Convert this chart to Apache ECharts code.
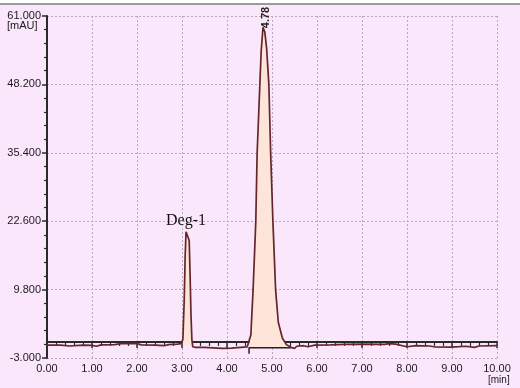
<!DOCTYPE html>
<html><head><meta charset="utf-8">
<script src="https://cdn.jsdelivr.net/npm/echarts@6/dist/echarts.min.js"></script>
<style>html,body{margin:0;padding:0;background:#fbe7fb;}#c{width:520px;height:388px;}</style>
</head><body><div id="c"></div>
<script>
// retention time (min) and detector signal (mAU)
const time   = [0.00,0.30,0.50,0.80,1.00,1.10,1.20,1.50,1.65,2.00,2.10,2.40,2.60,2.70,2.90,2.98,3.02,3.05,3.07,3.09,3.13,3.16,3.18,3.20,3.22,3.24,3.30,3.50,3.70,3.90,4.10,4.30,4.45,4.49,4.53,4.58,4.64,4.67,4.73,4.76,4.80,4.84,4.88,4.93,4.97,5.02,5.08,5.14,5.23,5.32,5.42,5.50,5.55,5.70,5.80,5.95,6.30,6.60,7.00,7.50,7.60,7.75,7.90,8.00,8.20,8.50,8.60,9.00,9.30,9.50,9.60,10.00];
const signal = [-0.60,-0.60,-0.75,-0.60,-0.65,-0.80,-0.55,-0.50,-0.30,-0.30,-0.55,-0.60,-0.70,-0.50,-0.40,-0.30,0.50,8.0,16.0,20.6,20.3,19.0,12.5,5.0,0.4,-0.9,-1.0,-1.0,-1.1,-1.2,-1.15,-1.0,-0.9,-0.6,1.3,9.8,22.6,35.4,48.2,54.5,58.9,58.0,55.0,48.2,35.4,22.6,9.8,3.7,0.75,-0.5,-1.0,-1.2,-0.8,-0.7,-0.9,-0.6,-0.55,-0.45,-0.4,-0.45,-0.3,-0.4,-0.7,-0.9,-0.7,-0.75,-0.9,-0.95,-0.8,-1.0,-0.75,-0.7];
// peaks: name, apex time, apex value, integration window and baseline level
const peakNames    = ['Deg-1', '4.78'];
const peakTimes    = [3.09, 4.80];
const peakValues   = [20.6, 58.9];
const peakStart    = [3.00, 4.49];
const peakEnd      = [3.25, 5.42];
const peakBase     = [-0.6, -1.1];
// axis ticks
const yTicks = [-3.0, 9.8, 22.6, 35.4, 48.2, 61.0];
const xTicks = [0,1,2,3,4,5,6,7,8,9,10];

const pairs = time.map((t,i)=>[t, signal[i]]);
const fillSeries = peakStart.map((s,k)=>({
  type:'line', data: pairs.filter(p=>p[0]>=s && p[0]<=peakEnd[k]),
  symbol:'none', lineStyle:{width:0}, silent:true, z:1,
  areaStyle:{color:'#fde5d9', opacity:1, origin: peakBase[k]}
}));

const chart = echarts.init(document.getElementById('c'));
chart.setOption({
  backgroundColor:'#fbe7fb',
  animation:false,
  grid:{left:47,right:23,top:16,bottom:30},
  xAxis:{type:'value', min:xTicks[0], max:xTicks[xTicks.length-1], interval:1,
    axisLine:{lineStyle:{color:'#2a2a2a',width:2}},
    axisTick:{length:6,lineStyle:{color:'#2a2a2a',width:1.5}},
    minorTick:{show:true,splitNumber:5,length:4,lineStyle:{color:'#2a2a2a',width:1.2}},
    splitLine:{show:true,lineStyle:{color:'#b4aab8',type:[2,2],width:1}},
    axisLabel:{color:'#1a1a1a',fontFamily:'Liberation Sans',fontSize:11,margin:5,
      formatter:v=>v.toFixed(2)}},
  yAxis:{type:'value', min:yTicks[0], max:yTicks[yTicks.length-1], interval:12.8,
    axisLine:{show:true,lineStyle:{color:'#2a2a2a',width:2}},
    axisTick:{show:true,length:5,lineStyle:{color:'#2a2a2a',width:1.5}},
    minorTick:{show:true,splitNumber:5,length:3,lineStyle:{color:'#2a2a2a',width:1.2}},
    splitLine:{show:true,lineStyle:{color:'#b4aab8',type:[2,2],width:1}},
    axisLabel:{color:'#1a1a1a',fontFamily:'Liberation Sans',fontSize:11,margin:6,
      formatter:v=>v.toFixed(3)}},
  series:[
    ...fillSeries,
    {type:'line', data:pairs, symbol:'none', z:3,
     lineStyle:{color:'#66242c',width:1.7},
     markPoint:{symbol:'circle',symbolSize:0,
       data:[
         {coord:[peakTimes[0],peakValues[0]], value:peakNames[0],
          label:{show:true,position:'top',distance:3,formatter:peakNames[0],
            fontFamily:'Liberation Serif',fontSize:16,color:'#111'}},
         {coord:[peakTimes[1],peakValues[1]], value:peakNames[1],
          label:{show:true,position:[0,0],offset:[-1,3],rotate:90,formatter:peakNames[1],
            align:'left',verticalAlign:'middle',fontFamily:'Liberation Sans',fontSize:11,fontWeight:'bold',color:'#222'}}
       ]}},
    {type:'line', data:[[peakStart[1],peakBase[1]-1.1],[peakStart[1],peakBase[1]],[peakEnd[1],peakBase[1]]],
     symbol:'none', z:2, lineStyle:{color:'#222',width:1.5}}
  ],
  graphic:[
    {type:'rect',left:0,top:0,shape:{width:520,height:3},style:{fill:'#ffffff'},z:-1},
    {type:'rect',left:0,top:3,shape:{width:520,height:2},style:{fill:'#9a9a9a'},z:-1},
    {type:'text',left:7,top:20,style:{text:'[mAU]',font:'11px Liberation Sans',fill:'#1a1a1a'}},
    {type:'text',left:488,top:375,style:{text:'[min]',font:'10px Liberation Sans',fill:'#1a1a1a'}}
  ]
});
</script></body></html>
